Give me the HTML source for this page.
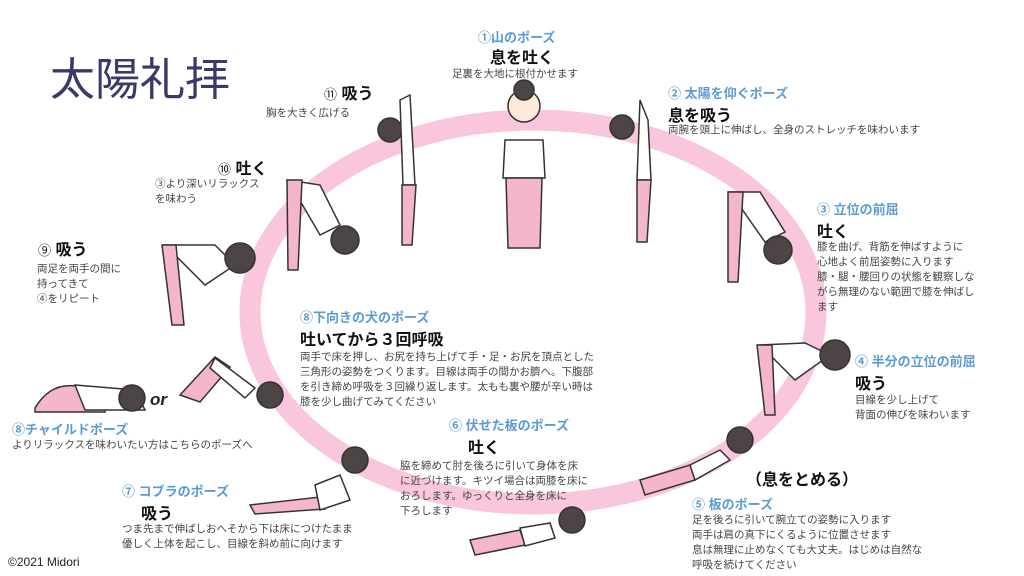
<!DOCTYPE html>
<html><head><meta charset="utf-8"><style>
body{margin:0;width:1024px;height:576px;background:#fff;overflow:hidden;position:relative;font-family:"Liberation Sans","Noto Sans CJK JP",sans-serif;color:#333}
.t{position:absolute;white-space:nowrap;line-height:1.2}
.b{position:absolute;white-space:nowrap;font-weight:bold;font-size:16px;color:#111}
.c{position:absolute;white-space:nowrap;font-weight:bold;font-size:13px;color:#5b9bd5}
.s{position:absolute;white-space:nowrap;font-size:10.5px;color:#444;line-height:15px}
svg{position:absolute;left:0;top:0}
</style></head><body>
<svg width="1024" height="576">
<ellipse cx="533" cy="312" rx="283" ry="192" fill="none" stroke="#f9c6dd" stroke-width="21"/>
<g stroke="#333" stroke-width="1.5">
<circle cx="524" cy="106" r="16" fill="#fde9d9"/><circle cx="524" cy="90" r="10" fill="#4d4545"/>
<path d="M505 140h38l2 38h-42z" fill="#fff"/><path d="M506 178h36l-2 70h-32z" fill="#f4b6cc"/>
<circle cx="390" cy="130" r="12" fill="#4d4545"/><path d="M400 100l10-5 5 90h-12z" fill="#fff"/><path d="M402 185h14l-4 60h-10z" fill="#f4b6cc"/>
<circle cx="622" cy="127" r="12" fill="#4d4545"/><path d="M640 100l8 20 3 60h-14z" fill="#fff"/><path d="M637 180h14l-4 62h-10z" fill="#f4b6cc"/>
<path d="M730 192l30 0 25 40-20 10z" fill="#fff"/><path d="M728 192h15l-5 90h-10z" fill="#f4b6cc"/><circle cx="778" cy="250" r="14" fill="#4d4545"/>
<path d="M288 180l32 5 20 40-20 10z" fill="#fff"/><path d="M287 180h15l-4 90h-10z" fill="#f4b6cc"/><circle cx="345" cy="240" r="14" fill="#4d4545"/>
<path d="M165 245h50l20 20-30 20z" fill="#fff"/><path d="M162 245h14l8 80h-12z" fill="#f4b6cc"/><circle cx="240" cy="258" r="15" fill="#4d4545"/>
<path d="M760 345l45-2 25 12-35 25z" fill="#fff"/><path d="M757 345h15l3 70h-10z" fill="#f4b6cc"/><circle cx="835" cy="355" r="15" fill="#4d4545"/>
<path d="M180 395l35-38 15 10-30 35z" fill="#f4b6cc"/><path d="M215 358l40 30-10 10-35-30z" fill="#fff"/><circle cx="270" cy="395" r="13" fill="#4d4545"/>
<path d="M35 408q15-25 40-22l30 6v20H35z" fill="#f4b6cc"/><path d="M75 385l60 5 10 20-60 0z" fill="#fff"/><circle cx="132" cy="398" r="13" fill="#4d4545"/>
<path d="M640 480l50-15 5 15-50 15z" fill="#f4b6cc"/><path d="M690 465l30-15 10 10-35 20z" fill="#fff"/><circle cx="740" cy="440" r="13" fill="#4d4545"/>
<path d="M470 540l50-10 5 15-50 10z" fill="#f4b6cc"/><path d="M520 528l30-5 5 15-30 8z" fill="#fff"/><circle cx="572" cy="520" r="13" fill="#4d4545"/>
<path d="M250 505l70-8 5 12-70 5z" fill="#f4b6cc"/><path d="M315 485l25-10 10 25-30 10z" fill="#fff"/><circle cx="355" cy="460" r="13" fill="#4d4545"/>
</g>
</svg>
<div class="t" style="left:50px;top:53px;font-size:45px;color:#3a3a6a">太陽礼拝</div>
<div class="c" style="left:478px;top:27px">①山のポーズ</div>
<div class="b" style="left:490px;top:44px">息を吐く</div>
<div class="s" style="left:452px;top:67px">足裏を大地に根付かせます</div>
<div class="b" style="left:324px;top:80px"><span style="font-weight:normal;font-size:13px">⑪</span> 吸う</div>
<div class="s" style="left:266px;top:106px">胸を大きく広げる</div>
<div class="c" style="left:668px;top:83px">② 太陽を仰ぐポーズ</div>
<div class="b" style="left:668px;top:102px">息を吸う</div>
<div class="s" style="left:668px;top:123px">両腕を頭上に伸ばし、全身のストレッチを味わいます</div>
<div class="b" style="left:218px;top:155px"><span style="font-weight:normal;font-size:13px">⑩</span> 吐く</div>
<div class="s" style="left:155px;top:177px">③より深いリラックス<br>を味わう</div>
<div class="c" style="left:817px;top:199px">③ 立位の前屈</div>
<div class="b" style="left:817px;top:218px">吐く</div>
<div class="s" style="left:817px;top:240px">膝を曲げ、背筋を伸ばすように<br>心地よく前屈姿勢に入ります<br>膝・腿・腰回りの状態を観察しな<br>がら無理のない範囲で膝を伸ばし<br>ます</div>
<div class="b" style="left:38px;top:236px"><span style="font-weight:normal;font-size:13px">⑨</span> 吸う</div>
<div class="s" style="left:37px;top:262px">両足を両手の間に<br>持ってきて<br>④をリピート</div>
<div class="c" style="left:300px;top:307px">⑧下向きの犬のポーズ</div>
<div class="b" style="left:300px;top:326px">吐いてから３回呼吸</div>
<div class="s" style="left:300px;top:350px">両手で床を押し、お尻を持ち上げて手・足・お尻を頂点とした<br>三角形の姿勢をつくります。目線は両手の間かお臍へ。下腹部<br>を引き締め呼吸を３回繰り返します。太もも裏や腰が辛い時は<br>膝を少し曲げてみてください</div>
<div class="c" style="left:855px;top:351px">④ 半分の立位の前屈</div>
<div class="b" style="left:855px;top:370px">吸う</div>
<div class="s" style="left:855px;top:393px">目線を少し上げて<br>背面の伸びを味わいます</div>
<div class="t" style="left:150px;top:390px;font-size:17px;font-weight:bold;font-style:italic;color:#222">or</div>
<div class="c" style="left:12px;top:419px">⑧チャイルドポーズ</div>
<div class="s" style="left:12px;top:438px">よりリラックスを味わいたい方はこちらのポーズへ</div>
<div class="c" style="left:449px;top:415px">⑥ 伏せた板のポーズ</div>
<div class="b" style="left:468px;top:434px">吐く</div>
<div class="s" style="left:400px;top:459px">脇を締めて肘を後ろに引いて身体を床<br>に近づけます。キツイ場合は両膝を床に<br>おろします。ゆっくりと全身を床に<br>下ろします</div>
<div class="b" style="left:746px;top:466px">（息をとめる）</div>
<div class="c" style="left:122px;top:481px">⑦ コブラのポーズ</div>
<div class="b" style="left:141px;top:500px">吸う</div>
<div class="s" style="left:122px;top:522px">つま先まで伸ばしおへそから下は床につけたまま<br>優しく上体を起こし、目線を斜め前に向けます</div>
<div class="c" style="left:692px;top:494px">⑤ 板のポーズ</div>
<div class="s" style="left:692px;top:513px">足を後ろに引いて腕立ての姿勢に入ります<br>両手は肩の真下にくるように位置させます<br>息は無理に止めなくても大丈夫。はじめは自然な<br>呼吸を続けてください</div>
<div class="t" style="left:8px;top:555px;font-size:12px;color:#222">©2021 Midori</div>
</body></html>
